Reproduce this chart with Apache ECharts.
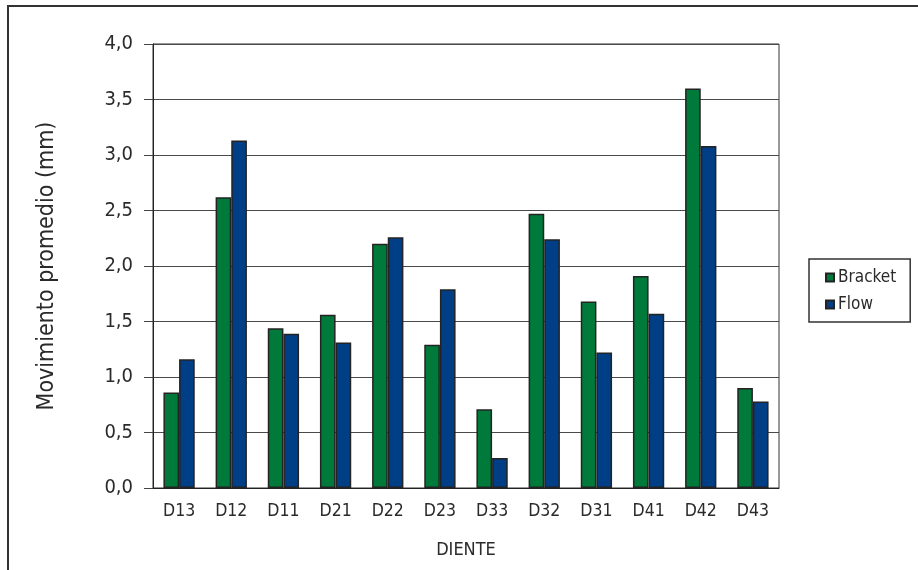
<!DOCTYPE html>
<html>
<head>
<meta charset="utf-8">
<script src="https://cdn.jsdelivr.net/npm/echarts@6/dist/echarts.min.js"></script>
<style>
  html, body { margin: 0; padding: 0; background: #ffffff; }
  #chart { width: 918px; height: 570px; }
</style>
</head>
<body>
<div id="chart"></div>
<script>
// Teeth (x axis categories)
const dientes = ['D13', 'D12', 'D11', 'D21', 'D22', 'D23', 'D33', 'D32', 'D31', 'D41', 'D42', 'D43'];
// Mean movement (mm) per tooth for each appliance
const bracket = [0.86, 2.62, 1.44, 1.56, 2.20, 1.29, 0.71, 2.47, 1.68, 1.91, 3.60, 0.90];
const flow    = [1.16, 3.13, 1.39, 1.31, 2.26, 1.79, 0.27, 2.24, 1.22, 1.57, 3.08, 0.78];
// Value axis ticks
const yTicks = [0, 0.5, 1, 1.5, 2, 2.5, 3, 3.5, 4];

const FONT = '"Liberation Sans Narrow", "DejaVu Sans Condensed", "Liberation Sans", sans-serif';
const TEXT = '#2a2a2a';

const chart = echarts.init(document.getElementById('chart'), null, { renderer: 'canvas' });

const fmt = v => v.toFixed(1).replace('.', ',');

chart.setOption({
  backgroundColor: '#ffffff',
  animation: false,
  textStyle: { fontFamily: FONT, color: TEXT },
  graphic: [{
    // outer frame, running off the right and bottom edges
    type: 'rect',
    shape: { x: 8, y: 6, width: 1000, height: 700 },
    style: { fill: 'none', stroke: '#333333', lineWidth: 2 },
    silent: true
  }],
  grid: {
    left: 153, right: 139, top: 44, bottom: 82,
    show: true, borderColor: '#333333', borderWidth: 1
  },
  legend: {
    orient: 'vertical',
    left: 809, top: 259,
    padding: [10, 14, 9, 16],
    itemGap: 10,
    itemWidth: 8, itemHeight: 8,
    icon: 'rect',
    borderColor: '#333333', borderWidth: 1.5,
    textStyle: { fontFamily: FONT, fontSize: 17, color: TEXT, padding: [0, 0, 0, -1] },
    data: ['Bracket', 'Flow']
  },
  xAxis: {
    type: 'category',
    data: dientes,
    name: 'DIENTE',
    nameLocation: 'middle',
    nameGap: 53,
    nameTextStyle: { fontFamily: FONT, fontSize: 18, color: TEXT },
    axisLine: { lineStyle: { color: '#222222', width: 1 } },
    axisTick: { length: 6, lineStyle: { color: '#222222' } },
    axisLabel: { fontFamily: FONT, fontSize: 17.5, color: TEXT, margin: 14 },
    splitLine: { show: false }
  },
  yAxis: {
    type: 'value',
    min: yTicks[0], max: yTicks[yTicks.length - 1], interval: 0.5,
    name: 'Movimiento promedio (mm)',
    nameLocation: 'middle',
    nameGap: 94,
    nameTextStyle: { fontFamily: FONT, fontSize: 23, color: TEXT },
    axisLine: { show: true, lineStyle: { color: '#222222', width: 1 } },
    axisTick: { show: true, length: 9, lineStyle: { color: '#444444' } },
    axisLabel: { fontFamily: FONT, fontSize: 20, color: TEXT, margin: 20, formatter: fmt },
    splitLine: { show: true, lineStyle: { color: '#4a4a4a', width: 1 } }
  },
  series: [
    {
      name: 'Bracket', type: 'bar', data: bracket,
      barGap: '0%', barCategoryGap: '40%',
      itemStyle: { color: '#007a3b', borderColor: '#232323', borderWidth: 1.5 }
    },
    {
      name: 'Flow', type: 'bar', data: flow,
      barGap: '0%', barCategoryGap: '40%',
      itemStyle: { color: '#003e86', borderColor: '#232323', borderWidth: 1.5 }
    }
  ]
});
</script>
</body>
</html>
